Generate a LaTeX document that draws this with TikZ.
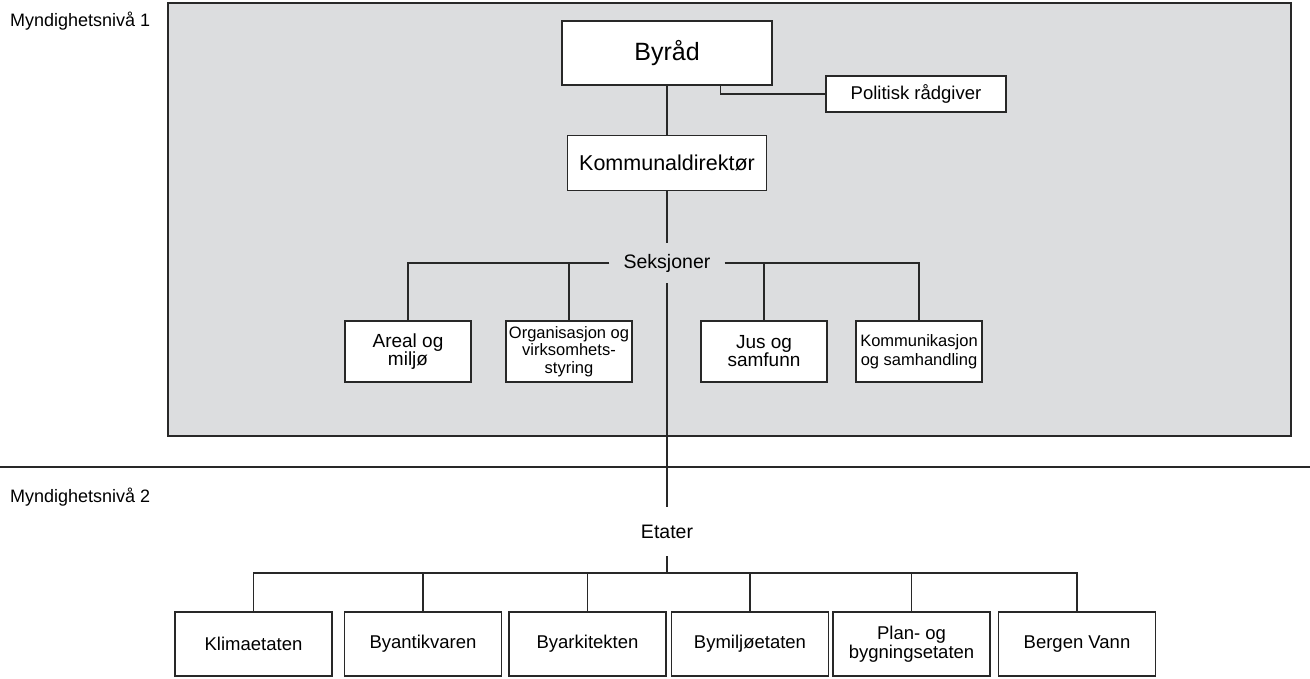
\documentclass[tikz,border=0pt]{standalone}
\usepackage{fontspec}
\setmainfont{Liberation Sans}
\usetikzlibrary{calc}
\definecolor{panelgray}{RGB}{220,221,223}
\definecolor{ink}{RGB}{40,40,40}
\begin{document}
\begin{tikzpicture}[x=1pt,y=-1pt,
  box/.style={draw=ink, line width=1.6pt, fill=white, inner sep=0pt, align=center},
  conn/.style={draw=ink, line width=1.5pt},
  lbl/.style={inner sep=0pt, align=center},
  bot/.style={box, minimum width=157pt, minimum height=64pt, font=\fontsize{18.5}{19.5}\selectfont},
  sek/.style={box, minimum width=126pt, minimum height=61pt}
]
\useasboundingbox (0,0) rectangle (1310,678);
% panel
\draw[fill=panelgray, draw=ink, line width=1.6pt] (168,3) rectangle (1291,436);
% separator
\draw[ink, line width=2.8pt] (0,467) -- (1310,467);
% level labels
\node[anchor=west, inner sep=0pt, font=\fontsize{18}{20}\selectfont] (lvl1) at (10,21) {Myndighetsnivå 1};
\node[anchor=west, inner sep=0pt, font=\fontsize{18}{20}\selectfont] (lvl2) at (10,497) {Myndighetsnivå 2};
% top
\node[box, minimum width=210pt, minimum height=64pt, font=\fontsize{25}{28}\selectfont] (byrad) at (667,53) {Byråd};
\node[box, minimum width=180pt, minimum height=36pt, font=\fontsize{18.5}{21}\selectfont] (pol) at (916,94) {Politisk rådgiver};
\node[box, minimum width=199pt, minimum height=55pt, font=\fontsize{21.5}{24}\selectfont] (kd) at (667,163) {Kommunaldirektør};
\node[lbl, minimum width=115pt, minimum height=40pt, font=\fontsize{19.5}{22}\selectfont] (seks) at (667,263) {Seksjoner};
% sections
\node[sek, font=\fontsize{19}{18}\selectfont] (areal) at (408,351.5) {Areal og\\miljø};
\node[sek, font=\fontsize{16.5}{17.5}\selectfont] (org) at (569,351.5) {Organisasjon og\\virksomhets-\\styring};
\node[sek, font=\fontsize{19}{18}\selectfont] (jus) at (764,351.5) {Jus og\\samfunn};
\node[sek, font=\fontsize{16.5}{19}\selectfont] (komm) at (919,351.5) {Kommunikasjon\\og samhandling};
% etater
\node[lbl, minimum width=80pt, minimum height=49pt, font=\fontsize{19.5}{22}\selectfont] (etat) at (667,531.5) {Etater};
\coordinate (bar) at (667,573);
\node[bot] (klima) at (253.5,644) {Klimaetaten};
\node[bot] (byant) at (423,644) {Byantikvaren};
\node[bot] (byark) at (587.5,644) {Byarkitekten};
\node[bot] (bymil) at (750,644) {Bymiljøetaten};
\node[bot] (plan) at (911.5,644) {Plan- og\\bygningsetaten};
\node[bot] (bergen) at (1077,644) {Bergen Vann};
% connectors
\draw[conn] (byrad.south) -- (kd.north);
\draw[conn] ($(byrad.south east)!0.248!(byrad.south west)$) |- (pol.west);
\draw[conn] (kd.south) -- (seks.north);
\draw[conn] (seks.south) -- (etat.north);
\draw[conn] (seks.west) -| (areal.north);
\draw[conn] (org.north) |- (seks.west);
\draw[conn] (seks.east) -| (komm.north);
\draw[conn] (jus.north) |- (seks.east);
\draw[conn] (etat.south) -- (bar);
\draw[conn] (klima.north) |- (bar) -| (bergen.north);
\draw[conn] (byant.north) -- (byant.north |- bar);
\draw[conn] (byark.north) -- (byark.north |- bar);
\draw[conn] (bymil.north) -- (bymil.north |- bar);
\draw[conn] (plan.north) -- (plan.north |- bar);
\end{tikzpicture}
\end{document}
